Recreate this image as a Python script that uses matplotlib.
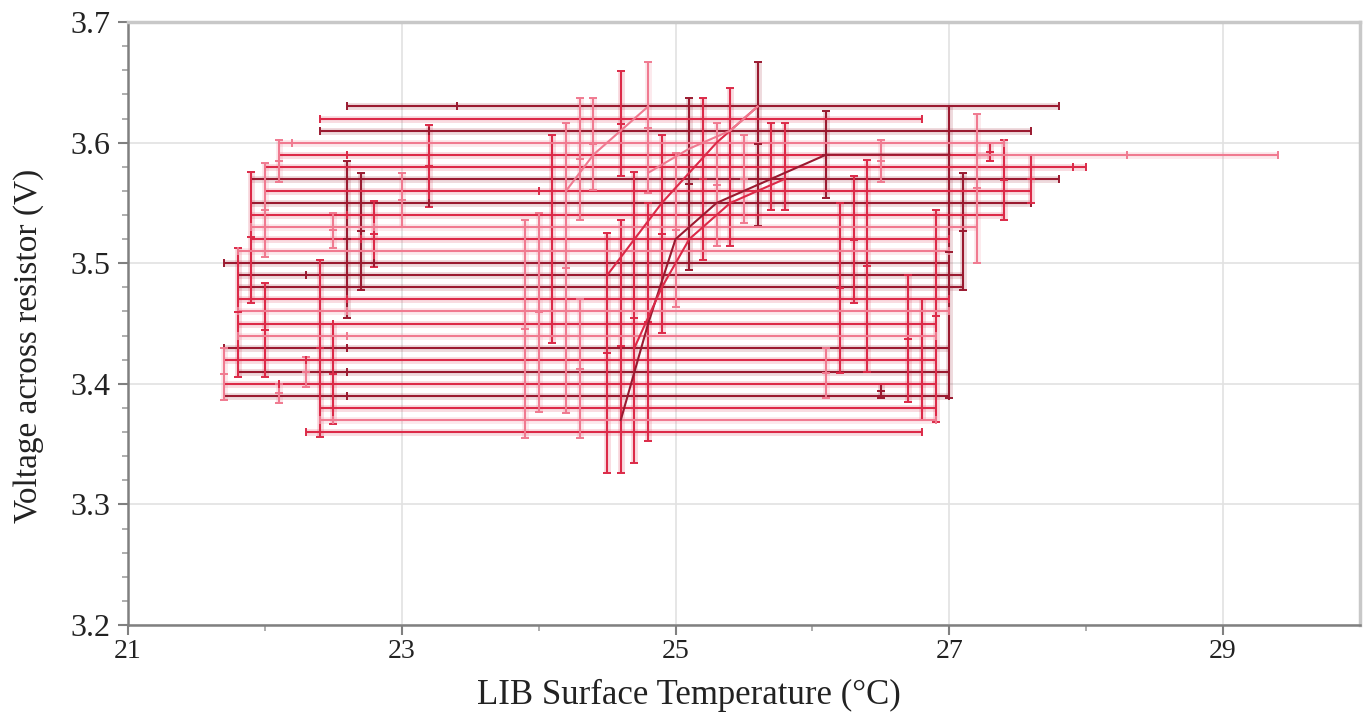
import matplotlib.pyplot as plt
import numpy as np

plt.rcParams['font.family'] = ['Liberation Serif', 'DejaVu Serif']

# colour codes used in the tables below
colors = {'d': '#9a1a30', 'm': '#dc2a48', 'p': '#f07a90'}

# horizontal (temperature) error bars: voltage, left end, right end, centre, colour
h_volt   = [3.63, 3.62, 3.61, 3.60, 3.59, 3.59, 3.58, 3.57, 3.56, 3.55, 3.54, 3.53, 3.52, 3.51,
            3.50, 3.49, 3.48, 3.47, 3.46, 3.45, 3.44, 3.43, 3.42, 3.41, 3.40, 3.39, 3.38, 3.37, 3.36]
h_left   = [22.6, 22.4, 22.4, 22.1, 22.1, 27.2, 22.0, 21.9, 22.0, 21.9, 21.9, 21.9, 21.9, 21.8,
            21.7, 21.8, 21.8, 21.8, 21.8, 21.8, 21.8, 21.7, 21.7, 21.8, 21.7, 21.7, 22.4, 22.4, 22.3]
h_right  = [27.8, 26.8, 27.6, 27.4, 27.3, 29.4, 28.0, 27.8, 27.6, 27.6, 27.4, 27.2, 27.0, 27.0,
            27.0, 27.1, 27.1, 27.0, 27.0, 26.9, 26.9, 27.0, 26.9, 27.0, 26.9, 27.0, 26.9, 26.9, 26.8]
h_centre = [23.4, 24.6, 23.2, 22.2, 22.6, 28.3, 27.9, 22.7, 24.0, 23.2, 22.6, 22.8, 22.7, 22.0,
            22.8, 22.3, 22.7, 22.6, 22.6, 22.5, 22.6, 22.6, 22.3, 22.6, 22.1, 22.6, 22.5, 22.5, 22.4]
h_col    = ['d', 'm', 'd', 'p', 'm', 'p', 'm', 'd', 'm', 'd', 'm', 'p', 'm', 'p',
            'd', 'd', 'd', 'm', 'p', 'm', 'p', 'd', 'm', 'd', 'm', 'd', 'm', 'p', 'm']

# vertical (voltage) error bars: temperature, lower end, upper end, colour
v_temp = [21.7, 21.8, 21.9, 22.0, 22.0, 22.1, 22.1, 22.3, 22.4, 22.5, 22.5, 22.6, 22.7, 22.8,
          23.0, 23.2, 23.9, 24.0, 24.1, 24.2, 24.3, 24.3, 24.4, 24.5, 24.6, 24.6, 24.7, 24.8,
          24.8, 24.9, 25.0, 25.1, 25.2, 25.3, 25.4, 25.5, 25.6, 25.7, 25.8, 26.1, 26.1, 26.2,
          26.3, 26.4, 26.5, 26.5, 26.7, 26.8, 26.9, 27.0, 27.1, 27.2, 27.3, 27.4, 27.6]
v_low  = [3.387, 3.406, 3.467, 3.505, 3.406, 3.567, 3.384, 3.397, 3.356, 3.513, 3.367, 3.455,
          3.478, 3.497, 3.530, 3.547, 3.355, 3.377, 3.434, 3.376, 3.536, 3.355, 3.561, 3.326,
          3.572, 3.326, 3.334, 3.558, 3.353, 3.442, 3.464, 3.494, 3.503, 3.514, 3.514, 3.533,
          3.531, 3.544, 3.544, 3.554, 3.388, 3.409, 3.467, 3.410, 3.567, 3.388, 3.385, 3.370,
          3.368, 3.388, 3.478, 3.500, 3.585, 3.536, 3.550]
v_high = [3.430, 3.513, 3.576, 3.583, 3.484, 3.602, 3.400, 3.422, 3.503, 3.542, 3.450, 3.585,
          3.575, 3.552, 3.575, 3.615, 3.536, 3.542, 3.606, 3.616, 3.637, 3.470, 3.637, 3.525,
          3.659, 3.536, 3.576, 3.667, 3.550, 3.606, 3.591, 3.637, 3.637, 3.616, 3.645, 3.606,
          3.667, 3.616, 3.616, 3.626, 3.430, 3.550, 3.572, 3.586, 3.602, 3.400, 3.490, 3.470,
          3.544, 3.630, 3.575, 3.624, 3.600, 3.602, 3.590]
v_col  = ['p', 'm', 'm', 'p', 'm', 'p', 'p', 'p', 'm', 'p', 'm', 'd', 'd', 'm',
          'p', 'm', 'p', 'p', 'm', 'p', 'p', 'p', 'p', 'm', 'm', 'm', 'm', 'p',
          'm', 'm', 'p', 'd', 'm', 'p', 'm', 'p', 'd', 'm', 'm', 'd', 'p', 'm',
          'm', 'm', 'p', 'd', 'm', 'm', 'm', 'd', 'd', 'p', 'm', 'm', 'm']

# mean curves
curve_a_t = [24.2, 24.4, 24.6, 24.8]
curve_a_v = [3.56, 3.59, 3.61, 3.63]
curve_b_t = [24.5, 24.7, 24.9, 25.1, 25.3, 25.6]
curve_b_v = [3.49, 3.52, 3.55, 3.575, 3.60, 3.63]
curve_c_t = [24.8, 25.1, 25.4, 25.6]
curve_c_v = [3.575, 3.595, 3.61, 3.63]
curve_d_t = [24.6, 24.8, 25.0, 25.3, 25.6, 25.9, 26.1, 27.0]
curve_d_v = [3.37, 3.45, 3.52, 3.55, 3.565, 3.58, 3.59, 3.59]
curve_e_t = [24.7, 24.9, 25.1, 25.4, 25.8]
curve_e_v = [3.43, 3.48, 3.52, 3.55, 3.57]

fig = plt.figure(figsize=(13.66, 7.18), dpi=100)
ax = fig.add_axes([0.0937, 0.1295, 0.9019, 0.8398])

h_volt = np.array(h_volt); h_left = np.array(h_left)
h_right = np.array(h_right); h_centre = np.array(h_centre)
v_temp = np.array(v_temp); v_low = np.array(v_low); v_high = np.array(v_high)

for code, c in colors.items():
    m = np.array([k == code for k in h_col])
    # soft halo, then the bar
    ax.hlines(h_volt[m], h_left[m], h_right[m], color=c, lw=5, alpha=0.16, zorder=2)
    ax.errorbar(h_centre[m], h_volt[m],
                xerr=[h_centre[m] - h_left[m], h_right[m] - h_centre[m]],
                fmt='|', ms=6, mew=1.4, color=c, ecolor=c, elinewidth=1.5,
                capsize=3, capthick=1.3, zorder=3)
    m = np.array([k == code for k in v_col])
    mid = (v_low[m] + v_high[m]) / 2
    ax.vlines(v_temp[m], v_low[m], v_high[m], color=c, lw=5, alpha=0.16, zorder=2)
    ax.errorbar(v_temp[m], mid, yerr=(v_high[m] - v_low[m]) / 2,
                fmt='_', ms=6, mew=1.4, color=c, ecolor=c, elinewidth=1.5,
                capsize=3, capthick=1.3, zorder=3)

ax.plot(curve_a_t, curve_a_v, color=colors['p'], lw=1.5, zorder=4)
ax.plot(curve_b_t, curve_b_v, color=colors['m'], lw=1.5, zorder=4)
ax.plot(curve_c_t, curve_c_v, color=colors['p'], lw=1.5, zorder=4)
ax.plot(curve_d_t, curve_d_v, color=colors['d'], lw=1.5, zorder=4)
ax.plot(curve_e_t, curve_e_v, color=colors['m'], lw=1.5, zorder=4)

ax.set_xlim(21, 30)
ax.set_ylim(3.2, 3.7)
ax.set_xticks([21, 23, 25, 27, 29])
ax.set_xticks([22, 24, 26, 28], minor=True)
ax.set_yticks([3.2, 3.3, 3.4, 3.5, 3.6, 3.7])
ax.set_yticks(np.arange(3.2, 3.701, 0.02), minor=True)
ax.set_yticklabels(['3.2', '3.3', '3.4', '3.5', '3.6', '3.7'])
ax.grid(True, which='major', color='#e2e2e2', lw=1.2, zorder=0)
ax.set_axisbelow(True)

for side in ['left', 'bottom']:
    ax.spines[side].set_color('#808080')
    ax.spines[side].set_linewidth(1.8)
for side in ['top', 'right']:
    ax.spines[side].set_color('#c8c8c8')
    ax.spines[side].set_linewidth(2.5)

ax.tick_params(which='major', direction='out', length=7, width=1.5, color='#808080',
               labelcolor='#222222')
ax.tick_params(axis='x', which='major', labelsize=20, pad=3)
ax.tick_params(axis='y', which='major', labelsize=23, pad=6)
ax.tick_params(which='minor', direction='out', length=4, width=1.2, color='#a0a0a0')

ax.set_xlabel('LIB Surface Temperature (\u00b0C)', fontsize=25, color='#222222')
ax.set_ylabel('Voltage across resistor (V)', fontsize=24, color='#222222')
ax.xaxis.set_label_coords(0.455, -0.09)
ax.yaxis.set_label_coords(-0.068, 0.463)

fig.savefig('out.png', dpi=100)
